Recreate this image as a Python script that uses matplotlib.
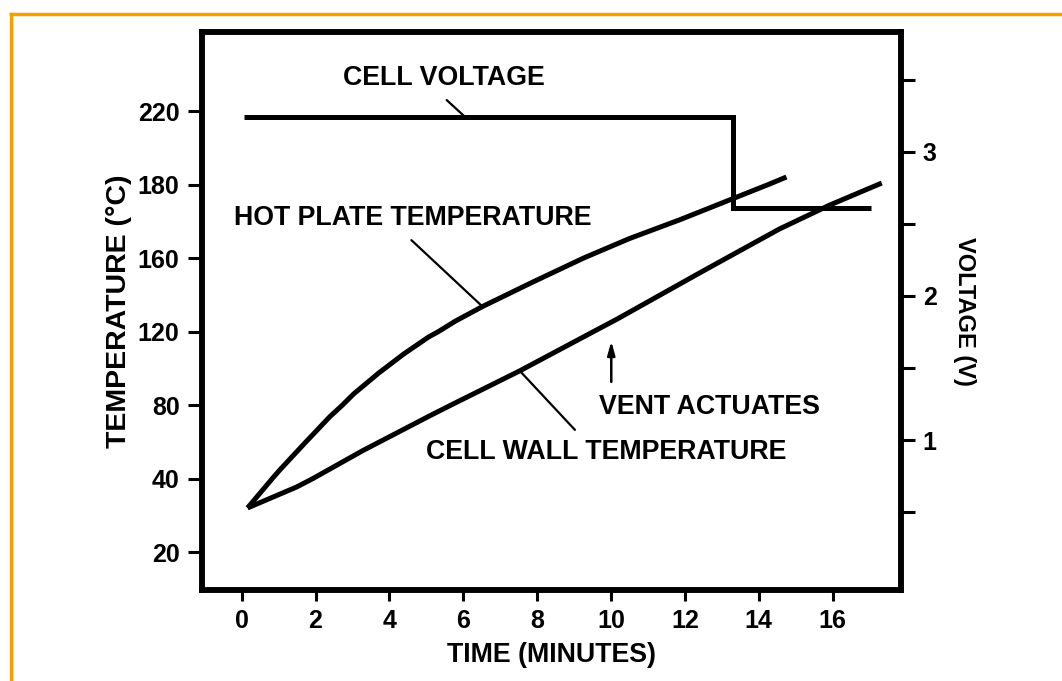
import numpy as np
import matplotlib
matplotlib.use('Agg')
import matplotlib.pyplot as plt
from matplotlib.lines import Line2D

# temperature axis labels sit at equal spacing on the original chart
temp_ticks = [20, 40, 80, 120, 160, 180, 220]

# hot plate temperature (deg C) vs time (min)
hot_t = [0.16, 0.83, 1.03, 1.71, 2.38, 2.73, 3.03, 3.71, 4.39, 5.06, 5.33, 5.79, 6.52,
         7.88, 9.26, 10.50, 11.86, 13.21, 14.26, 14.75]
hot_temp = [32.0, 40.0, 44.6, 59.3, 73.5, 80.0, 86.0, 97.4, 107.8, 117.0, 120.0, 125.7, 133.6,
            146.9, 160.0, 165.3, 170.4, 175.8, 180.0, 184.1]

# cell wall temperature (deg C) vs time (min)
wall_t = [0.16, 1.49, 1.93, 3.28, 5.09, 5.67, 7.53, 9.53, 10.15, 12.40, 13.13,
          14.56, 15.92, 17.33]
wall_temp = [32.0, 37.7, 40.0, 55.2, 74.1, 80.0, 98.6, 120.0, 126.6, 151.9, 160.0,
             167.9, 174.4, 180.8]

# cell voltage (V) vs time (min), step at the vent
volt_t = [0.05, 13.29, 13.29, 17.05]
volt_v = [3.243, 3.243, 2.61, 2.61]

time_ticks = [0, 2, 4, 6, 8, 10, 12, 14, 16]

# piecewise mapping so that the odd temperature labels are evenly spaced
map_temp = [0, 20, 40, 80, 120, 160, 180, 220, 300]
map_idx = [-1, 0, 1, 2, 3, 4, 5, 6, 8]


def fwd(v):
    return np.interp(v, map_temp, map_idx)


def inv(v):
    return np.interp(v, map_idx, map_temp)


plt.rcParams['font.family'] = ['Liberation Sans', 'DejaVu Sans']
plt.rcParams['font.weight'] = 'bold'
FS = 18
TFS = 19.3
LW = 3.6

fig = plt.figure(figsize=(10.62, 6.81), dpi=100)
ax = fig.add_axes([0.190, 0.1336, 0.658, 0.8194])
ax.set_yscale('function', functions=(fwd, inv))

ax.plot(hot_t, hot_temp, color='black', lw=LW, solid_capstyle='butt', solid_joinstyle='round')
ax.plot(wall_t, wall_temp, color='black', lw=LW, solid_capstyle='butt', solid_joinstyle='round')

ax.set_xlim(-1.08, 17.84)
ax.set_ylim(9.66, 263)
ax.set_xticks(time_ticks)
ax.set_yticks(temp_ticks)
ax.set_yticklabels([str(v) for v in temp_ticks])
ax.minorticks_off()
ax.tick_params(axis='both', direction='out', length=8, width=2.2, labelsize=FS, pad=6)
ax.tick_params(axis='y', length=10)
for s in ax.spines.values():
    s.set_linewidth(4)

ax.set_xlabel('TIME (MINUTES)', fontsize=TFS, fontweight='bold', labelpad=6)
ax.set_ylabel('TEMPERATURE (°C)', fontsize=20.5, fontweight='bold', labelpad=4)

ax2 = ax.twinx()
ax2.plot(volt_t, volt_v, color='black', lw=LW, solid_joinstyle='miter', solid_capstyle='butt')
ax2.set_ylim(-0.04, 3.83)
ax2.set_yticks([1, 2, 3])
ax2.set_yticks([0.5, 1.5, 2.5, 3.5], minor=True)
ax2.tick_params(axis='y', which='both', direction='out', length=10, width=2.2, labelsize=FS, pad=6)
ax2.set_ylabel('VOLTAGE (V)', fontsize=17, fontweight='bold', rotation=270, labelpad=28)
for s in ax2.spines.values():
    s.set_linewidth(4)

# annotations
tkw = dict(fontsize=TFS, fontweight='bold', ha='center', va='center', transform=ax.transAxes)
lead = dict(arrowstyle='-', lw=1.6, color='black', shrinkA=0, shrinkB=0)

ax.text(0.346, 0.9176, 'CELL VOLTAGE', **tkw)
ax2.annotate('', xy=(6.04, volt_v[0]), xytext=(0.3505, 0.878),
             textcoords='axes fraction', arrowprops=lead)

ax.text(0.302, 0.667, 'HOT PLATE TEMPERATURE', **tkw)
ax.annotate('', xy=(6.52, 133.6), xytext=(0.300, 0.627),
            textcoords='axes fraction', arrowprops=lead)

ax.text(0.727, 0.328, 'VENT ACTUATES', **tkw)
ax.annotate('', xy=(0.586, 0.446), xytext=(0.586, 0.373), xycoords='axes fraction',
            arrowprops=dict(arrowstyle='-|>,head_length=0.8,head_width=0.22', lw=1.8,
                            color='black', shrinkA=0, shrinkB=0))

ax.text(0.579, 0.247, 'CELL WALL TEMPERATURE', **tkw)
ax.annotate('', xy=(7.53, 98.6), xytext=(0.534, 0.287),
            textcoords='axes fraction', arrowprops=lead)

# orange frame along top and left
orange = '#F5A000'
fig.add_artist(Line2D([11 / 1062, 1.0], [1 - 14 / 681, 1 - 14 / 681],
                      color=orange, lw=2.5, transform=fig.transFigure))
fig.add_artist(Line2D([11 / 1062, 11 / 1062], [0.0, 1 - 14 / 681],
                      color=orange, lw=2.5, transform=fig.transFigure))

fig.savefig('out.png', dpi=100)
